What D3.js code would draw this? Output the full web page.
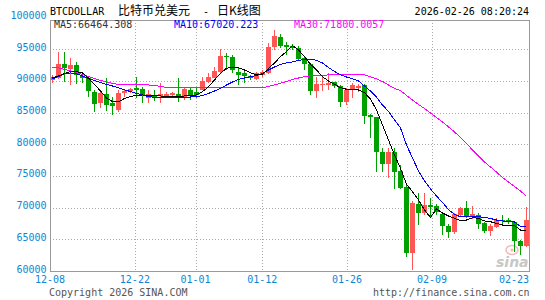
<!DOCTYPE html>
<html>
<head>
<meta charset="utf-8">
<script src="https://cdn.jsdelivr.net/npm/d3@7"></script>
<style>
html, body { margin: 0; padding: 0; background: #fff; }
svg { display: block; }
text { font-family: "DejaVu Sans Mono", monospace; font-size: 10px; }
</style>
</head>
<body>
<svg id="chart" width="545" height="300"></svg>
<script>
// daily candles, 12-08 .. 02-25
const dates = [
  "12-08","12-09","12-10","12-11","12-12","12-13","12-14","12-15","12-16","12-17","12-18","12-19",
  "12-20","12-21","12-22","12-23","12-24","12-25","12-26","12-27","12-28","12-29","12-30","12-31",
  "01-01","01-02","01-03","01-04","01-05","01-06","01-07","01-08","01-09","01-10","01-11","01-12",
  "01-13","01-14","01-15","01-16","01-17","01-18","01-19","01-20","01-21","01-22","01-23","01-24",
  "01-25","01-26","01-27","01-28","01-29","01-30","01-31",
  "02-01","02-02","02-03","02-04","02-05","02-06","02-07","02-08","02-09","02-10","02-11","02-12",
  "02-13","02-14","02-15","02-16","02-17","02-18","02-19","02-20","02-21","02-22","02-23","02-24","02-25"
];

const openVals = [
  90160, 90430, 92690, 91900, 92530, 90790, 90430, 88310, 86480, 87900,
  86480, 85420, 88060, 88310, 88850, 88690, 87270, 87790, 87580, 87630,
  87790, 87950, 87270, 88580, 88270, 88690, 89900, 90590, 91470, 93950,
  93840, 91470, 91320, 90790, 90270, 90950, 91340, 95290, 96950, 95690,
  95530, 95270, 93600, 92640, 88310, 89370, 89480, 89800, 89210, 86640,
  88580, 88940, 89370, 84630, 84270, 78790, 76900, 78790, 75790, 73310,
  62840, 70580, 69110, 70420, 70260, 68950, 67110, 66110, 68840, 69990,
  68420, 68840, 67530, 66320, 66990, 68050, 68050, 67690, 64740, 63990
];
const closeVals = [
  90590, 92690, 92010, 92530, 90950, 90550, 88310, 86480, 88060, 86210,
  85940, 88060, 88420, 88690, 88580, 87520, 87900, 87270, 87900, 87950,
  88060, 87270, 88690, 87790, 87790, 90050, 90680, 91630, 93950, 93740,
  91850, 90950, 90790, 90430, 91220, 91470, 95370, 97030, 95530, 95420,
  95160, 93600, 92640, 88310, 89480, 89580, 89730, 89100, 86640, 88580,
  89370, 89260, 84520, 84270, 78680, 76900, 78790, 75680, 73150, 62890,
  70740, 69210, 70420, 70180, 69360, 66990, 66210, 68950, 69990, 68680,
  68950, 67370, 66320, 67110, 68050, 67820, 67790, 64740, 63990, 68050
];
const highVals = [
  90950, 94630, 94580, 93680, 93050, 91420, 90680, 88580, 88580, 90430,
  87520, 88580, 88580, 88900, 90680, 89100, 88580, 88580, 89640, 88190,
  88310, 90430, 89100, 89100, 88850, 90680, 91220, 92260, 95010, 94370,
  94110, 92010, 91580, 90950, 91470, 91740, 96000, 98000, 97420, 96080,
  95850, 95580, 93750, 92800, 90680, 90950, 91220, 89900, 89370, 88850,
  89640, 89480, 89480, 84740, 84360, 79370, 79370, 79370, 76740, 73580,
  71050, 72270, 72270, 71480, 70530, 69360, 67370, 69110, 70150, 71050,
  70260, 69110, 67780, 67370, 68320, 68840, 68420, 67780, 64890, 70150
];
const lowVals = [
  89690, 90270, 89900, 89370, 89480, 89690, 87520, 85150, 85740, 85260,
  84630, 85110, 87530, 88110, 87270, 86580, 86480, 86890, 86580, 87400,
  87520, 86730, 87000, 87000, 87320, 88580, 89640, 90430, 91220, 91740,
  91220, 89370, 89640, 90160, 90160, 90680, 91100, 94900, 95210, 94110,
  94900, 93320, 91740, 87790, 87270, 88420, 88580, 88940, 85940, 86210,
  87270, 88310, 83210, 80950, 75680, 75680, 74640, 72900, 72900, 62260,
  60160, 67260, 68840, 68320, 68840, 65680, 65160, 65800, 68570, 68320,
  68160, 66630, 65950, 65530, 66840, 67260, 67370, 63050, 62530, 63840
];

// moving averages as drawn
const ma5 = [
  90470, 90790, 91190, 91470, 91470, 91260, 90470, 89450, 88420, 87320,
  86730, 86690, 87240, 87550, 87710, 87790, 87680, 87630, 87630, 87580,
  87520, 87520, 87630, 87630, 87790, 88310, 89100, 90160, 91220, 92010,
  92160, 92100, 91740, 91310, 90950, 91060, 92010, 92840, 93840, 94630,
  95580, 94900, 93840, 92640, 91740, 90680, 90000, 89480, 88940, 88690,
  88580, 88580, 88150, 87160, 85420, 83050, 80690, 78320, 76220, 73690,
  72520, 71210, 69630, 68450, 69790, 69160, 68680, 68320, 67940, 68050,
  68420, 68320, 67900, 67780, 67530, 67260, 67260, 67150, 66470, 66464
];
const ma10 = [
  90320, 90710, 91110, 91260, 91110, 90790, 90400, 90080, 89760, 89450,
  89210, 88900, 88580, 88340, 88030, 87790, 87550, 87400, 87400, 87400,
  87430, 87440, 87470, 87470, 87520, 87710, 88030, 88420, 88820, 89370,
  89840, 90240, 90470, 90680, 90870, 91190, 91740, 92210, 92610, 92840,
  93000, 93240, 93400, 93400, 93270, 92840, 92130, 91500, 90950, 90630,
  90320, 90000, 89210, 88420, 87470, 86210, 85190, 83840, 82580, 79900,
  77840, 75790, 74210, 72950, 71840, 70820, 69710, 68920, 68570, 68530,
  68530, 68570, 68450, 68290, 68050, 67900, 67820, 67740, 67030, 67020
];
const ma30 = [
  92130, 92050, 91820, 91580, 91340, 91030, 90710, 90400, 90080, 89840,
  89610, 89450, 89370, 89370, 89370, 89370, 89370, 89290, 89130, 88970,
  88900, 88900, 88900, 88900, 88900, 88900, 88900, 88970, 89010, 89010,
  89010, 88970, 88970, 88940, 88900, 88900, 89130, 89370, 89640, 89920,
  90240, 90470, 90680, 90790, 90870, 90920, 90950, 90950, 90950, 90980,
  91030, 91060, 90980, 90680, 90320, 89920, 89370, 88820, 88500, 87710,
  87000, 86290, 85660, 84950, 84240, 83530, 82740, 81950, 81080, 80130,
  79110, 78160, 77210, 76420, 75630, 74760, 74050, 73340, 72630, 71800
];

const yTicks = [60000, 65000, 70000, 75000, 80000, 85000, 90000, 95000, 100000];
const xTickLabels = ["12-08", "12-22", "01-01", "01-12", "01-26", "02-09", "02-23"];

const legendItems = [
  { label: "MA5:66464.308", color: "#333333", line: "#000000", values: ma5 },
  { label: "MA10:67020.223", color: "#0000ff", line: "#0000ff", values: ma10 },
  { label: "MA30:71800.0057", color: "#ff00ff", line: "#ff00ff", values: ma30 }
];

const UP_COLOR = "#ff5555";
const DOWN_COLOR = "#00a000";
const GRID_COLOR = "#aaaaaa";
const AXIS_COLOR = "#999999";
const LABEL_BLUE = "#0e86d4";

const LEFT = 50, RIGHT = 529, TOP = 20, BOTTOM = 271;

const svg = d3.select("#chart");

const x = d3.scaleBand().domain(dates).range([LEFT - 0.5, RIGHT + 0.5]).padding(0);
const cx = d => x(d) + x.bandwidth() / 2;
// date grid follows a slightly different spacing than the candles
const gridX = d3.scaleLinear().domain([0, dates.length - 1]).range([LEFT, RIGHT]);
const y = d3.scaleLinear().domain([60000, 100000]).range([BOTTOM, BOTTOM - 8 * 31.67]);
const crisp = v => Math.round(v) + 0.5;

// grid
const grid = svg.append("g")
    .attr("stroke", GRID_COLOR)
    .attr("stroke-dasharray", "1,2")
    .attr("shape-rendering", "crispEdges");
grid.selectAll("line.h")
    .data(yTicks.filter(v => v > 60000 && v < 100000))
    .join("line")
    .attr("class", "h")
    .attr("x1", LEFT).attr("x2", RIGHT)
    .attr("y1", d => crisp(y(d))).attr("y2", d => crisp(y(d)));
grid.selectAll("line.v")
    .data(xTickLabels.slice(1, -1))
    .join("line")
    .attr("class", "v")
    .attr("x1", d => crisp(gridX(dates.indexOf(d))))
    .attr("x2", d => crisp(gridX(dates.indexOf(d))))
    .attr("y1", TOP).attr("y2", BOTTOM);

// sina watermark
const mark = svg.append("g").attr("opacity", 0.55);
mark.append("ellipse")
    .attr("cx", 512).attr("cy", 250).attr("rx", 6).attr("ry", 4.5)
    .attr("fill", "none").attr("stroke", "#f08080").attr("stroke-width", 1.5);
mark.append("circle")
    .attr("cx", 512).attr("cy", 250).attr("r", 1.6).attr("fill", "#f08080");
mark.append("text")
    .attr("x", 496).attr("y", 267)
    .style("font-family", "'DejaVu Sans', sans-serif")
    .style("font-size", "14px")
    .style("font-weight", "bold")
    .style("font-style", "italic")
    .attr("fill", "#9a9a9a")
    .text("sina");

// candles
const candles = dates.map((d, i) => ({
    date: d, o: openVals[i], c: closeVals[i], h: highVals[i], l: lowVals[i]
}));

const cg = svg.append("g").attr("shape-rendering", "crispEdges");
cg.selectAll("line")
    .data(candles)
    .join("line")
    .attr("x1", d => cx(d.date)).attr("x2", d => cx(d.date))
    .attr("y1", d => y(d.h)).attr("y2", d => y(d.l))
    .attr("stroke", d => d.c >= d.o ? UP_COLOR : DOWN_COLOR);
cg.selectAll("rect")
    .data(candles)
    .join("rect")
    .attr("x", d => x(d.date) + 0.5)
    .attr("width", 5)
    .attr("y", d => Math.round(y(Math.max(d.o, d.c))))
    .attr("height", d => Math.max(1, Math.round(Math.abs(y(d.o) - y(d.c)))))
    .attr("fill", d => d.c >= d.o ? UP_COLOR : DOWN_COLOR);

// moving average lines, drawn aliased like the original
const maLine = d3.line()
    .x((v, i) => cx(dates[i]))
    .y(v => y(v));
svg.append("g").selectAll("path")
    .data(legendItems.slice().reverse())
    .join("path")
    .attr("d", d => maLine(d.values))
    .attr("fill", "none")
    .attr("stroke", d => d.line)
    .attr("stroke-width", 1)
    .attr("shape-rendering", "crispEdges");

// frame
svg.append("rect")
    .attr("x", LEFT + 0.5).attr("y", TOP + 0.5)
    .attr("width", RIGHT - LEFT).attr("height", BOTTOM - TOP)
    .attr("fill", "none")
    .attr("stroke", AXIS_COLOR)
    .attr("shape-rendering", "crispEdges");

// y labels
svg.append("g").selectAll("text")
    .data(yTicks)
    .join("text")
    .attr("x", 46.5)
    .attr("y", d => y(d) + 1.5)
    .attr("text-anchor", "end")
    .attr("fill", LABEL_BLUE)
    .text(d => d);

// x labels
svg.append("g").selectAll("text")
    .data(xTickLabels)
    .join("text")
    .attr("x", d => Math.min(gridX(dates.indexOf(d)), RIGHT - 15))
    .attr("y", 283)
    .attr("text-anchor", "middle")
    .attr("fill", LABEL_BLUE)
    .text(d => d);

// title
const title = svg.append("text").attr("y", 15).attr("fill", "#000");
title.append("tspan").attr("x", 50).text("BTCDOLLAR");
title.append("tspan").attr("x", 118)
    .style("font-family", "'Noto Sans CJK SC', sans-serif").style("font-size", "12px")
    .text("比特币兑美元");
title.append("tspan").attr("x", 203).text("-");
title.append("tspan").attr("x", 217)
    .style("font-family", "'Noto Sans CJK SC', sans-serif").style("font-size", "12px")
    .text("日K线图");

svg.append("text")
    .attr("x", RIGHT).attr("y", 15)
    .attr("text-anchor", "end")
    .attr("fill", "#000")
    .text("2026-02-26 08:20:24");

// MA legend
svg.append("g").selectAll("text")
    .data(legendItems)
    .join("text")
    .attr("x", (d, i) => 54 + i * 120)
    .attr("y", 28)
    .attr("fill", d => d.color)
    .text(d => d.label);

// footer
svg.append("text")
    .attr("x", 49).attr("y", 296)
    .attr("fill", "#555")
    .text("Copyright 2026 SINA.COM");
svg.append("text")
    .attr("x", RIGHT + 0.5).attr("y", 296)
    .attr("text-anchor", "end")
    .attr("fill", "#555")
    .text("http://finance.sina.com.cn");
</script>
</body>
</html>
